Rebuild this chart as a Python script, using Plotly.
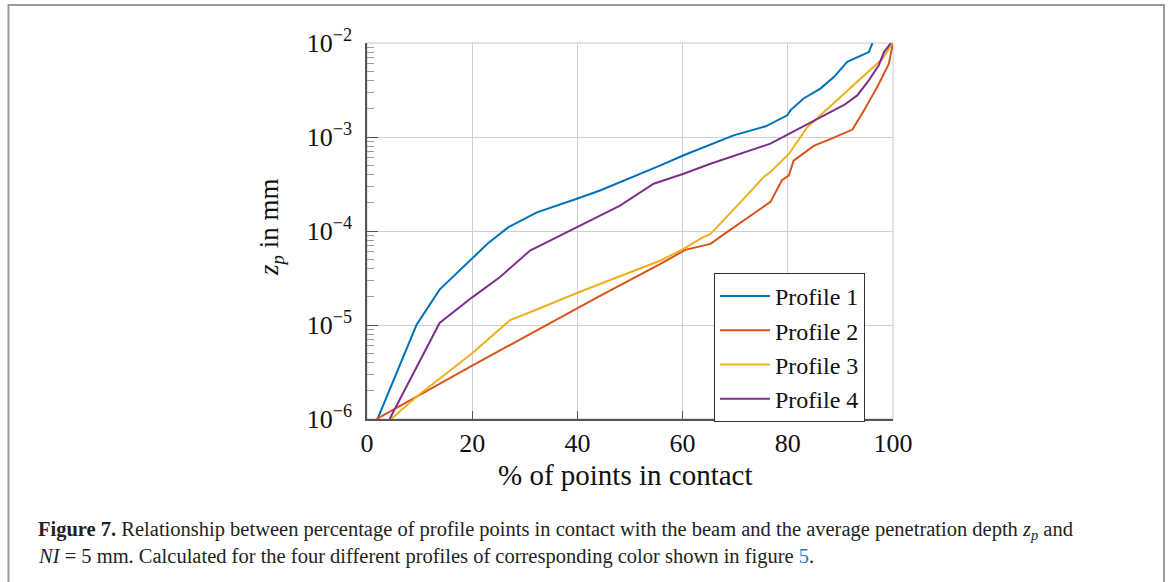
import plotly.graph_objects as go

# ---------------- data ----------------
p1_x = [2, 9.4, 13.8, 23, 26.9, 32.3, 39.9, 44.3, 55.8, 60.2, 69.7, 75.8, 79.9, 80.5, 83.0, 86.2, 88.8, 91.3, 95.4, 96.1]
p1_y = [1e-6, 1.0e-5, 2.38e-5, 7.4e-5, 1.10e-4, 1.58e-4, 2.20e-4, 2.70e-4, 5.0e-4, 6.4e-4, 1.04e-3, 1.30e-3, 1.70e-3, 1.92e-3, 2.57e-3, 3.27e-3, 4.37e-3, 6.3e-3, 8.0e-3, 1e-2]

p2_x = [1.8, 20, 44.3, 55.8, 60.5, 65.3, 68.5, 76.7, 78.9, 80.2, 81.1, 85.0, 87.5, 90.4, 92.3, 94.5, 97.0, 99.2, 100]
p2_y = [1e-6, 3.7e-6, 2.04e-5, 4.47e-5, 6.3e-5, 7.3e-5, 9.8e-5, 2.04e-4, 3.47e-4, 3.9e-4, 5.6e-4, 8.1e-4, 9.2e-4, 1.08e-3, 1.2e-3, 1.92e-3, 3.4e-3, 6.0e-3, 1e-2]

p3_x = [4.6, 9.7, 20, 27.2, 31.6, 39.9, 55.8, 60.2, 63.4, 65.3, 70.4, 75.4, 77.0, 80.2, 83.7, 86.2, 91.3, 94.5, 98.0, 99.9]
p3_y = [1e-6, 1.78e-6, 5.0e-6, 1.13e-5, 1.41e-5, 2.19e-5, 4.85e-5, 6.46e-5, 8.3e-5, 9.3e-5, 1.86e-4, 3.74e-4, 4.4e-4, 6.6e-4, 1.27e-3, 1.7e-3, 3.13e-3, 4.53e-3, 6.8e-3, 1e-2]

p4_x = [4.3, 13.8, 20, 25.3, 31, 38.9, 44.3, 48.1, 54.5, 60.2, 65.3, 76.7, 80.2, 85.6, 90.7, 93.2, 95.4, 97.3, 98.3, 99.6]
p4_y = [1e-6, 1.05e-5, 1.97e-5, 3.24e-5, 6.2e-5, 1.02e-4, 1.46e-4, 1.86e-4, 3.18e-4, 4.07e-4, 5.2e-4, 8.5e-4, 1.08e-3, 1.57e-3, 2.19e-3, 2.77e-3, 4.0e-3, 5.8e-3, 8.0e-3, 1e-2]

series_names = ["Profile 1", "Profile 2", "Profile 3", "Profile 4"]
colors = ["#0072BD", "#D95319", "#EDB120", "#7E2F8E"]

x_ticks = [0, 20, 40, 60, 80, 100]
y_ticks = [1e-6, 1e-5, 1e-4, 1e-3, 1e-2]
y_ticktext = ["10<sup>−6</sup>", "10<sup>−5</sup>", "10<sup>−4</sup>", "10<sup>−3</sup>", "10<sup>−2</sup>"]
y_minor = [m * d for d in [1e-6, 1e-5, 1e-4, 1e-3] for m in range(2, 10)]

# ---------------- figure ----------------
W, H = 1171, 582
L, R, T, B = 367, 278, 43, 163
PW, PH = W - L - R, H - T - B

def px(xp):
    return (xp - L) / PW

def py(yp):
    return (H - B - yp) / PH

SERIF = "Liberation Serif"

fig = go.Figure()
for xs, ys, name, c in zip([p1_x, p2_x, p3_x, p4_x], [p1_y, p2_y, p3_y, p4_y], series_names, colors):
    fig.add_trace(go.Scatter(x=xs, y=ys, mode="lines", name=name,
                             line=dict(color=c, width=2)))

fig.update_layout(
    width=W, height=H,
    margin=dict(l=L, r=R, t=T, b=B),
    paper_bgcolor="white", plot_bgcolor="white",
    font=dict(family=SERIF, size=26, color="#111"),
    showlegend=True,
    legend=dict(x=px(714), y=py(273), xanchor="left", yanchor="top",
                bgcolor="white", bordercolor="#333", borderwidth=1,
                font=dict(family=SERIF, size=24, color="#111"),
                tracegroupgap=0, itemwidth=50),
)

fig.update_xaxes(range=[0, 100], tickvals=x_ticks, ticks="inside", ticklen=8,
                 tickcolor="#555", showgrid=True, gridcolor="#cfcfcf", gridwidth=1,
                 showline=True, linecolor="#555", linewidth=1.5, mirror=False,
                 zeroline=False, tickfont=dict(family=SERIF, size=26, color="#111"))
fig.update_yaxes(type="log", range=[-6, -2], tickvals=y_ticks, ticktext=y_ticktext,
                 ticks="inside", ticklen=11, tickcolor="#555",
                 minor=dict(tickvals=y_minor, ticks="inside", ticklen=7, tickcolor="#999", showgrid=False),
                 showgrid=True, gridcolor="#cfcfcf", gridwidth=1,
                 showline=True, linecolor="#555", linewidth=1.5, mirror=False,
                 zeroline=False, ticklabelstandoff=8,
                 tickfont=dict(family=SERIF, size=26, color="#111"))

# right / top light border of the axes box
fig.add_shape(type="rect", xref="paper", yref="paper", x0=0, x1=1, y0=0, y1=1,
              line=dict(color="#c8c8c8", width=1), layer="below")

# outer figure frame
fig.add_shape(type="rect", xref="paper", yref="paper",
              x0=px(8.5), x1=px(1164), y0=py(600), y1=py(5),
              line=dict(color="#9a9a9a", width=2), layer="below")

# axis titles
fig.add_annotation(text="% of points in contact", xref="paper", yref="paper",
                   x=px(625), y=py(475), xanchor="center", yanchor="middle", showarrow=False,
                   font=dict(family=SERIF, size=29, color="#111"))
fig.add_annotation(text="<i>z</i><sub><i>p</i></sub> in mm", xref="paper", yref="paper",
                   x=px(271), y=py(228), xanchor="center", yanchor="middle",
                   showarrow=False, textangle=-90,
                   font=dict(family=SERIF, size=27, color="#111"))

# caption
fig.add_annotation(
    text="<b>Figure 7.</b> Relationship between percentage of profile points in contact with the beam and the average penetration depth <i>z</i><sub><i>p</i></sub> and",
    xref="paper", yref="paper", x=px(36), y=py(530), xanchor="left", yanchor="middle",
    showarrow=False, font=dict(family=SERIF, size=20.5, color="#231f20"))
fig.add_annotation(
    text="<i>NI</i> = 5 mm. Calculated for the four different profiles of corresponding color shown in figure <span style='color:#2a7ab8'>5</span>.",
    xref="paper", yref="paper", x=px(36), y=py(556), xanchor="left", yanchor="middle",
    showarrow=False, font=dict(family=SERIF, size=20.5, color="#231f20"))

fig.write_html("out.html")
